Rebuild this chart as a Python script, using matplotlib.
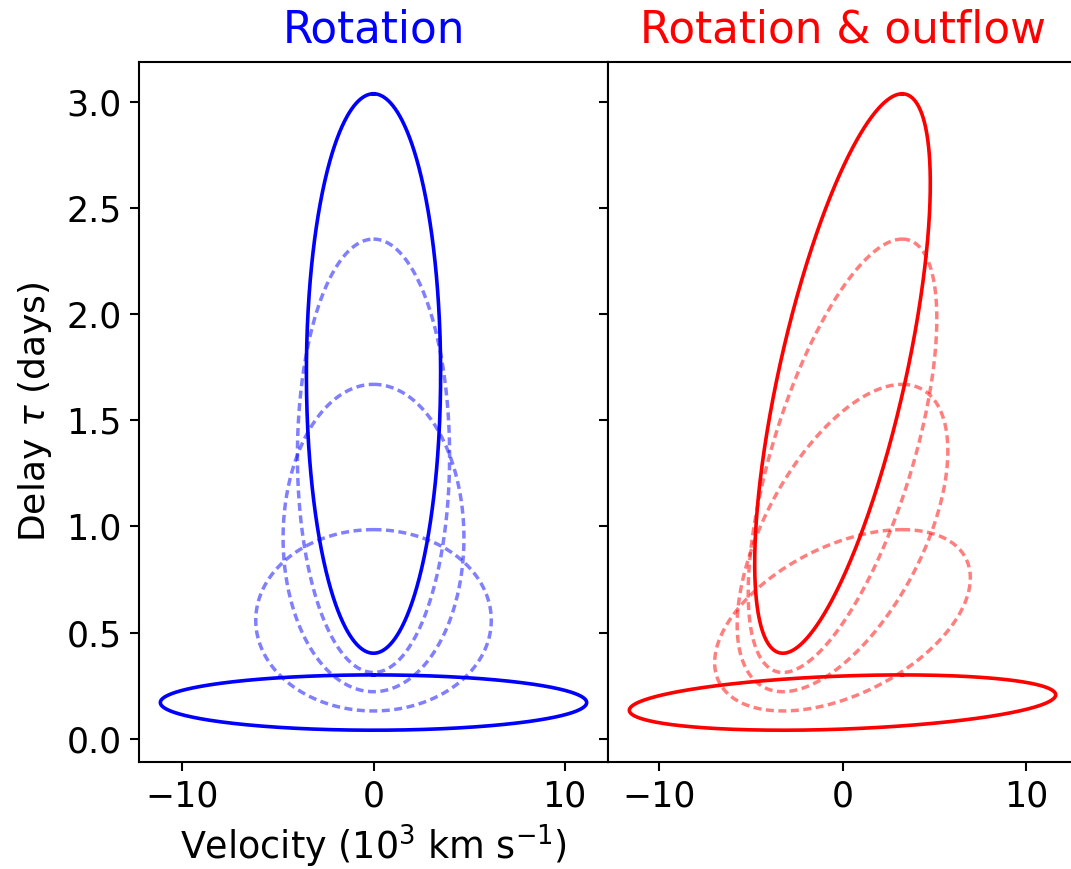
import numpy as np
import matplotlib
matplotlib.use("Agg")
import matplotlib.pyplot as plt

# Ring model: circular rings at a common inclination
ring_radius_ld = [0.17, 0.5575, 0.945, 1.3325, 1.72]     # ring radius (light-days)
inclination_deg = 50.0
v_rot_proj = [11.15, 6.16, 4.73, 3.98, 3.51]           # projected rotation speed (10^3 km/s)
v_out_proj = [3.25, 3.25, 3.25, 3.25, 3.25]            # projected outflow speed (10^3 km/s)
ring_solid = [True, False, False, False, True]

panel_titles = ["Rotation", "Rotation & outflow"]
panel_colors = ["#0000ff", "#ff0000"]
y_ticks = [0.0, 0.5, 1.0, 1.5, 2.0, 2.5, 3.0]
x_ticks = [-10, 0, 10]

DPI = 100
fig = plt.figure(figsize=(10.71, 8.69), dpi=DPI)
ax_l = fig.add_axes([0.1298, 0.1231, 0.4379, 0.8056])
ax_r = fig.add_axes([0.5677, 0.1231, 0.4379, 0.8056], sharey=ax_l)

phi = np.linspace(0, 2 * np.pi, 721)
sin_i = np.sin(np.radians(inclination_deg))


def draw_rings(ax, color, with_outflow):
    order = [k for k in range(len(ring_radius_ld)) if not ring_solid[k]] + \
            [k for k in range(len(ring_radius_ld)) if ring_solid[k]]
    for k in order:
        R = ring_radius_ld[k]
        tau = R * (1.0 + sin_i * np.cos(phi))
        vel = v_rot_proj[k] * np.sin(phi)
        if with_outflow:
            vel = vel + v_out_proj[k] * np.cos(phi)
        if ring_solid[k]:
            ax.plot(vel, tau, color=color, lw=2.6)
        else:
            line, = ax.plot(vel, tau, color=color, lw=2.5, alpha=0.5,
                            linestyle="--")
            line.set_dashes((2.3, 1.3))


draw_rings(ax_l, panel_colors[0], False)
draw_rings(ax_r, panel_colors[1], True)

for ax, title, col in zip([ax_l, ax_r], panel_titles, panel_colors):
    ax.set_title(title, color=col, fontsize=31.5, pad=14)
    ax.set_xticks(x_ticks)
    ax.set_xticklabels([f"{t}".replace("-", "\u2212") for t in x_ticks])
    ax.tick_params(axis="both", labelsize=25, length=6.7, width=1.5, pad=6)
    for sp in ax.spines.values():
        sp.set_linewidth(1.5)

ax_l.set_yticks(y_ticks)
ax_l.set_yticklabels([f"{t:.1f}" for t in y_ticks])
ax_r.tick_params(axis="y", labelleft=False)
ax_l.set_xlabel(r"Velocity (10$^3$ km s$^{-1}$)", fontsize=26.3, labelpad=7)
ax_l.set_ylabel(r"Delay $\tau$ (days)", fontsize=26, labelpad=9)

fig.savefig("out.png", dpi=DPI)
